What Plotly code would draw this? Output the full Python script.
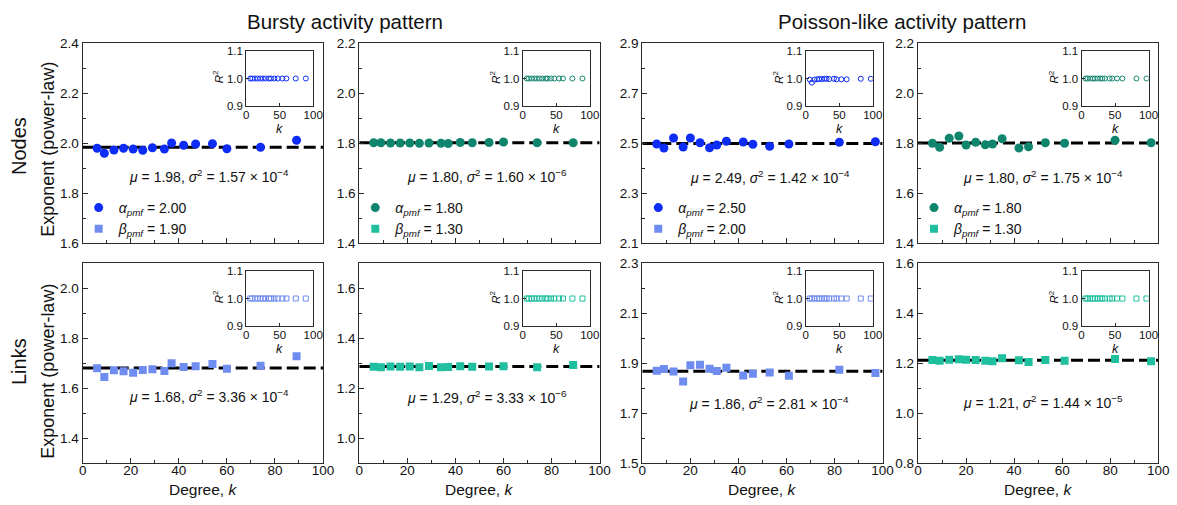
import numpy as np
import plotly.graph_objects as go

W, H = 1177, 505

# ---------------- data ----------------
degree_bursty = [6, 9, 13, 17, 21, 25, 29, 34, 37, 42, 47, 54, 60, 74, 89]
degree_poisson = [6, 9, 13, 17, 20, 24, 28, 31, 35, 42, 46, 53, 61, 82, 97]

nodes_bursty_alpha2 = [1.979, 1.959, 1.972, 1.979, 1.976, 1.971, 1.981, 1.976, 2.000, 1.991,
                       1.996, 1.997, 1.977, 1.983, 2.011]
nodes_bursty_alpha18 = [1.801, 1.801, 1.800, 1.800, 1.800, 1.799, 1.800, 1.799, 1.798, 1.802,
                        1.801, 1.802, 1.804, 1.801, 1.801]
nodes_poisson_alpha25 = [2.496, 2.480, 2.520, 2.484, 2.520, 2.501, 2.481, 2.492, 2.507, 2.504,
                         2.495, 2.487, 2.496, 2.503, 2.505]
nodes_poisson_alpha18 = [1.799, 1.783, 1.819, 1.828, 1.792, 1.803, 1.793, 1.796, 1.817, 1.780,
                         1.785, 1.801, 1.799, 1.811, 1.801]
links_bursty_beta19 = [1.679, 1.644, 1.671, 1.667, 1.661, 1.672, 1.675, 1.668, 1.699, 1.684,
                       1.687, 1.696, 1.677, 1.689, 1.727]
links_bursty_beta13 = [1.285, 1.283, 1.286, 1.285, 1.286, 1.283, 1.288, 1.283, 1.284, 1.287,
                       1.285, 1.286, 1.287, 1.283, 1.292]
links_poisson_beta2 = [1.869, 1.876, 1.866, 1.826, 1.891, 1.893, 1.877, 1.868, 1.881, 1.850,
                       1.857, 1.862, 1.849, 1.873, 1.860]
links_poisson_beta13 = [1.212, 1.209, 1.213, 1.215, 1.213, 1.212, 1.209, 1.207, 1.219, 1.211,
                        1.204, 1.212, 1.209, 1.216, 1.207]

r2_nodes_bursty_alpha2 = [1.0] * 15
r2_nodes_bursty_alpha18 = [1.0] * 15
r2_nodes_poisson_alpha25 = [0.996, 0.985, 0.996, 0.997, 0.998, 0.998, 0.999, 0.999, 0.998, 0.999,
                            0.997, 0.997, 0.997, 0.999, 0.999]
r2_nodes_poisson_alpha18 = [1.0] * 15
r2_links_bursty_beta19 = [1.0] * 15
r2_links_bursty_beta13 = [1.0] * 15
r2_links_poisson_beta2 = [1.0] * 15
r2_links_poisson_beta13 = [1.0] * 15

alpha_labels = ["2.00", "1.80", "2.50", "1.80"]
beta_labels = ["1.90", "1.30", "2.00", "1.30"]
stats_nodes = [("1.98", "1.57", "4"), ("1.80", "1.60", "6"), ("2.49", "1.42", "4"), ("1.80", "1.75", "4")]
stats_links = [("1.68", "3.36", "4"), ("1.29", "3.33", "6"), ("1.86", "2.81", "4"), ("1.21", "1.44", "5")]

y_ranges_nodes = [[1.6, 2.4], [1.4, 2.2], [2.1, 2.9], [1.4, 2.2]]
y_ranges_links = [[1.3, 2.1], [0.9, 1.7], [1.5, 2.3], [0.8, 1.6]]
y_ticks_nodes = [[1.6, 1.8, 2.0, 2.2, 2.4], [1.4, 1.6, 1.8, 2.0, 2.2],
                 [2.1, 2.3, 2.5, 2.7, 2.9], [1.4, 1.6, 1.8, 2.0, 2.2]]
y_ticks_links = [[1.4, 1.6, 1.8, 2.0], [1.0, 1.2, 1.4, 1.6],
                 [1.5, 1.7, 1.9, 2.1, 2.3], [0.8, 1.0, 1.2, 1.4, 1.6]]
x_ticks = [0, 20, 40, 60, 80, 100]
inset_x_ticks = [0, 50, 100]
inset_y_ticks = [0.9, 1.0, 1.1]

col_titles = ["Bursty activity pattern", "Poisson-like activity pattern"]

BLUE = "#0d2cf5"
LBLUE = "#6f8cf0"
TEAL = "#10856e"
LTEAL = "#1fbf9f"

node_series = [nodes_bursty_alpha2, nodes_bursty_alpha18, nodes_poisson_alpha25, nodes_poisson_alpha18]
link_series = [links_bursty_beta19, links_bursty_beta13, links_poisson_beta2, links_poisson_beta13]
node_r2 = [r2_nodes_bursty_alpha2, r2_nodes_bursty_alpha18, r2_nodes_poisson_alpha25, r2_nodes_poisson_alpha18]
link_r2 = [r2_links_bursty_beta19, r2_links_bursty_beta13, r2_links_poisson_beta2, r2_links_poisson_beta13]
degrees = [degree_bursty, degree_bursty, degree_poisson, degree_poisson]
node_colors = [BLUE, TEAL, BLUE, TEAL]
link_colors = [LBLUE, LTEAL, LBLUE, LTEAL]

# ---------------- geometry (pixels) ----------------
panel_x0 = [82.7, 359.3, 642.3, 918.0]
panel_w = 240.3
row_top = [43.0, 263.0]
panel_h = 200.0
inset_dx, inset_w, inset_dy, inset_h = 163.5, 67.0, 8.0, 55.0


def px(x):
    return x / W


def py(y):
    return 1 - y / H


FONT = "Liberation Sans, Arial, sans-serif"
LINE = "#2a2a2a"

fig = go.Figure()
layout = dict(width=W, height=H, margin=dict(l=0, r=0, t=0, b=0, autoexpand=False),
              paper_bgcolor="white", plot_bgcolor="white",
              font=dict(family=FONT, color="#111", size=13.5), showlegend=True)
annotations = []


def note(x, y, text, size, angle=0):
    annotations.append(dict(x=px(x), y=py(y), xref="paper", yref="paper", text=text,
                            textangle=angle, showarrow=False, font=dict(size=size),
                            xanchor="center", yanchor="middle"))


for r in range(2):
    for c in range(4):
        idx = r * 4 + c + 1
        iidx = 8 + r * 4 + c + 1
        x0 = panel_x0[c]
        ytop = row_top[r]
        xs = degrees[c]
        ys = node_series[c] if r == 0 else link_series[c]
        r2 = node_r2[c] if r == 0 else link_r2[c]
        color = node_colors[c] if r == 0 else link_colors[c]
        symbol = "circle" if r == 0 else "square"
        xa = "x" if idx == 1 else f"x{idx}"
        ya = "y" if idx == 1 else f"y{idx}"
        xi = f"x{iidx}"
        yi = f"y{iidx}"
        mean_val = float(np.mean(ys))
        # dashed mean line
        fig.add_trace(go.Scatter(x=[0, 100], y=[mean_val, mean_val], mode="lines",
                                 line=dict(color="black", width=3, dash="12px,5px"),
                                 xaxis=xa, yaxis=ya, showlegend=False, hoverinfo="skip"))
        name = (f"<i>α</i><sub><i>pmf</i></sub> = {alpha_labels[c]}" if r == 0
                else f"<i>β</i><sub><i>pmf</i></sub> = {beta_labels[c]}")
        legname = "legend" if c == 0 else f"legend{c + 1}"
        fig.add_trace(go.Scatter(x=xs, y=ys, mode="markers", name=name,
                                 marker=dict(color=color, size=9 if r == 0 else 8, symbol=symbol,
                                             line=dict(width=0)),
                                 xaxis=xa, yaxis=ya, legend=legname, showlegend=True))
        # inset
        fig.add_trace(go.Scatter(x=xs, y=r2, mode="markers",
                                 marker=dict(color=color, size=5,
                                             symbol="circle-open" if r == 0 else "square-open",
                                             line=dict(width=1)),
                                 xaxis=xi, yaxis=yi, showlegend=False))

        xdom = [px(x0), px(x0 + panel_w)]
        ydom = [py(ytop + panel_h), py(ytop)]
        yr = y_ranges_nodes[c] if r == 0 else y_ranges_links[c]
        yt = y_ticks_nodes[c] if r == 0 else y_ticks_links[c]
        kx = "xaxis" if idx == 1 else f"xaxis{idx}"
        ky = "yaxis" if idx == 1 else f"yaxis{idx}"
        layout[kx] = dict(domain=xdom, anchor=ya,
                          range=[0, 100], tickmode="array", tickvals=x_ticks,
                          ticks="inside", ticklen=5, tickwidth=1, tickcolor=LINE,
                          minor=dict(ticks="inside", ticklen=3, dtick=10, tick0=0, tickcolor=LINE),
                          showticklabels=(r == 1), tickfont=dict(size=13.5), ticklabelstandoff=-5,
                          showline=True, linecolor=LINE, linewidth=1.3, mirror=True,
                          showgrid=False, zeroline=False, automargin=False, fixedrange=True)
        layout[ky] = dict(domain=ydom, anchor=xa, range=yr, tickmode="array", tickvals=yt,
                          tickformat=".1f", ticks="inside", ticklen=5, tickwidth=1, tickcolor=LINE,
                          minor=dict(ticks="inside", ticklen=3, dtick=0.1, tick0=yt[0], tickcolor=LINE),
                          tickfont=dict(size=13.5),
                          showline=True, linecolor=LINE, linewidth=1.3, mirror=True,
                          showgrid=False, zeroline=False, automargin=False, fixedrange=True)
        # inset axes
        ix0 = x0 + inset_dx
        iy0 = ytop + inset_dy
        layout[f"xaxis{iidx}"] = dict(domain=[px(ix0), px(ix0 + inset_w)], anchor=yi,
                                      range=[0, 100], tickmode="array", tickvals=inset_x_ticks,
                                      ticks="inside", ticklen=3, tickcolor=LINE,
                                      tickfont=dict(size=11.5), ticklabelstandoff=-2,
                                      showline=True, linecolor=LINE, linewidth=1, mirror=True,
                                      showgrid=False, zeroline=False, automargin=False, fixedrange=True)
        layout[f"yaxis{iidx}"] = dict(domain=[py(iy0 + inset_h), py(iy0)], anchor=xi,
                                      range=[0.9, 1.1], tickmode="array", tickvals=inset_y_ticks,
                                      tickformat=".1f", ticks="inside", ticklen=3, tickcolor=LINE,
                                      tickfont=dict(size=11.5),
                                      showline=True, linecolor=LINE, linewidth=1, mirror=True,
                                      showgrid=False, zeroline=False, automargin=False, fixedrange=True)
        note(ix0 - 28, iy0 + 26, "<i>R</i><sup>2</sup>", 11.5, -90)
        note(ix0 + inset_w / 2, iy0 + inset_h + 23, "<i>k</i>", 12.5)
        # stats text
        stats = stats_nodes[c] if r == 0 else stats_links[c]
        offs_top = [(126, 133), (128, 133), (128, 134), (125, 134)]
        offs_bot = [(126, 133), (128, 134), (127, 140), (125, 139)]
        ox, oy = (offs_top if r == 0 else offs_bot)[c]
        note(x0 + ox, ytop + oy,
             f"<i>μ</i> = {stats[0]}, <i>σ</i><sup>2</sup> = {stats[1]} × 10<sup>−{stats[2]}</sup>", 14)
        if r == 1:
            note(x0 + panel_w / 2, 489, "Degree, <i>k</i>", 15.5)

# legends
for c in range(4):
    key = "legend" if c == 0 else f"legend{c + 1}"
    layout[key] = dict(x=px(panel_x0[c] - 4), y=py(192), xanchor="left", yanchor="top",
                       bgcolor="rgba(0,0,0,0)", borderwidth=0, font=dict(size=14),
                       tracegroupgap=0, itemwidth=30)

# row / column labels
note(19, 146, "Nodes", 20, -90)
note(19, 362, "Links", 20, -90)
note(47.7, 149, "Exponent (power-law)", 18, -90)
note(47.7, 371, "Exponent (power-law)", 18, -90)
note(345, 21, col_titles[0], 20.5)
note(902, 21, col_titles[1], 20.5)

layout["annotations"] = annotations
fig.update_layout(**layout)
fig.write_html("out.html", config={"displayModeBar": False},
               post_script="document.body.style.margin='0px';document.body.style.padding='0px';")
